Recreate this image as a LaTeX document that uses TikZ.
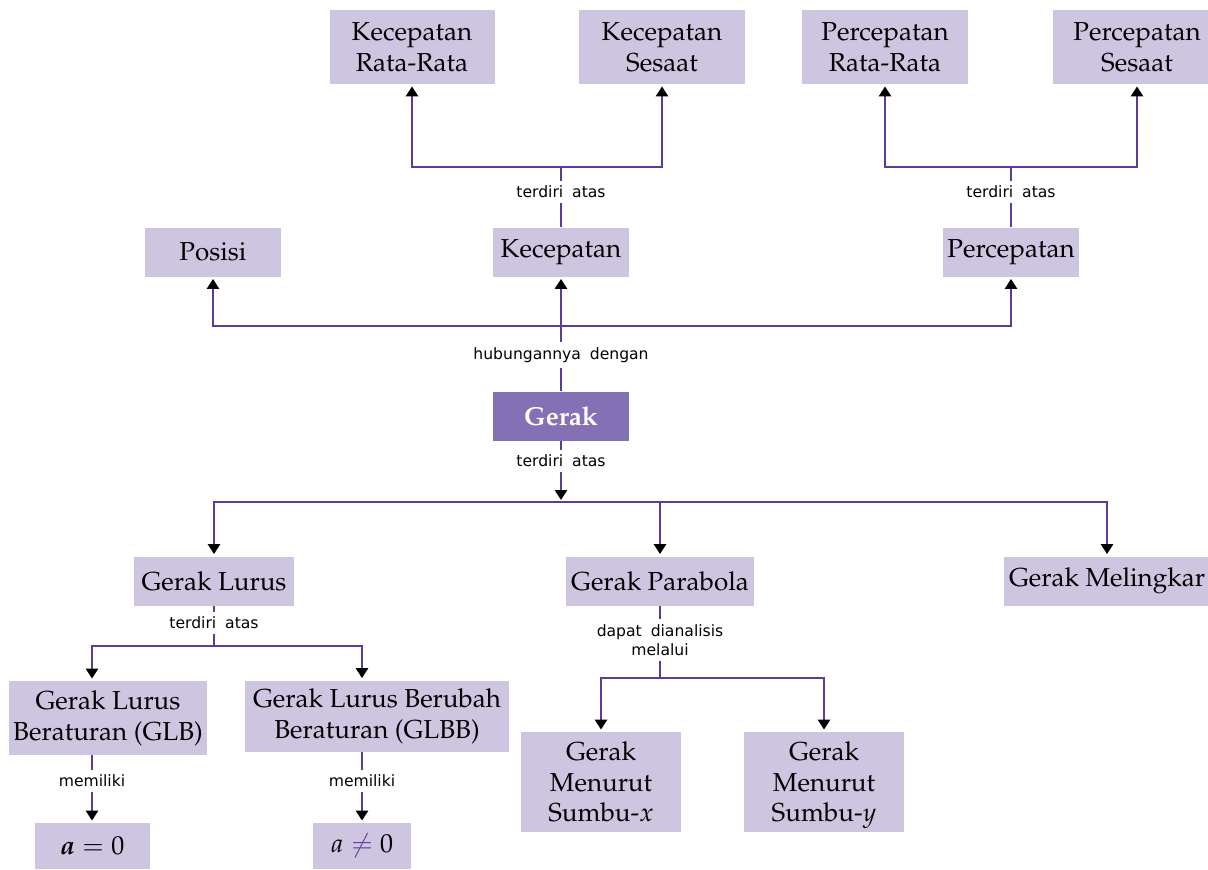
\documentclass[tikz,border=0pt]{standalone}
\usepackage{fontspec}
\newfontfamily\ketfont[WordSpace=1.8]{DejaVu Sans}
\usepackage[T1]{fontenc}
\usepackage{mathpazo}
\usepackage{bm}
\usetikzlibrary{arrows.meta}

\definecolor{boxpurple}{HTML}{CEC6E1}
\definecolor{darkpurple}{HTML}{8470B4}
\definecolor{linepurple}{HTML}{5B3C9B}

\tikzset{
  konsep/.style={fill=boxpurple, inner sep=0pt, align=center,
    font=\fontsize{13}{15.3}\selectfont},
  utama/.style={konsep, fill=darkpurple, text=white,
    font=\fontsize{13}{15.3}\selectfont\bfseries},
  ket/.style={inner sep=2.5pt, align=center,
    font=\ketfont\fontsize{7.8}{9.5}\selectfont},
  hub/.style={linepurple, line width=1.3pt},
  panah/.style={hub, shorten >=1pt, -{Triangle[color=black,length=5pt,width=6pt]}},
}

\begin{document}
\begin{tikzpicture}[x=0.5pt,y=-0.5pt]
  \useasboundingbox (0,0) rectangle (1208,869);

  % baris atas
  \node[konsep, minimum width=82.5pt, minimum height=37pt] (krr) at (412,47) {Kecepatan\\Rata-Rata};
  \node[konsep, minimum width=83pt, minimum height=37pt] (ks) at (662,47) {Kecepatan\\Sesaat};
  \node[konsep, minimum width=83pt, minimum height=37pt] (prr) at (885,47) {Percepatan\\Rata-Rata};
  \node[konsep, minimum width=84pt, minimum height=37pt] (ps) at (1137,47) {Percepatan\\Sesaat};

  % besaran
  \node[konsep, minimum width=68pt, minimum height=24.5pt] (posisi) at (213,252) {Posisi};
  \node[konsep, minimum width=68pt, minimum height=24.5pt] (kecepatan) at (561,252) {Kecepatan};
  \node[konsep, minimum width=68pt, minimum height=24.5pt] (percepatan) at (1011,252) {Percepatan};

  % pusat
  \node[utama, minimum width=68pt, minimum height=24.5pt] (gerak) at (561,416) {Gerak};

  % jenis gerak
  \node[konsep, minimum width=80pt, minimum height=24.5pt] (lurus) at (214,581) {Gerak Lurus};
  \node[konsep, minimum width=94pt, minimum height=24.5pt] (parabola) at (660,581) {Gerak Parabola};
  \node[konsep, minimum width=103pt, minimum height=24.5pt] (melingkar) at (1107,581) {Gerak Melingkar};

  \node[konsep, minimum width=99pt, minimum height=37pt] (glb) at (108,718) {Gerak Lurus\\Beraturan (GLB)};
  \node[konsep, minimum width=132pt, minimum height=35.5pt] (glbb) at (377,716) {Gerak Lurus Berubah\\Beraturan (GLBB)};
  \node[konsep, minimum width=57.5pt, minimum height=23pt] (anol) at (92,846) {$\bm{a} = 0$};
  \node[konsep, minimum width=49pt, minimum height=23pt] (abukan) at (362,846) {$a \mathrel{\color{linepurple}\neq} 0$};
  \node[konsep, minimum width=80pt, minimum height=50pt] (sx) at (601,782) {Gerak\\Menurut\\Sumbu-$x$};
  \node[konsep, minimum width=80pt, minimum height=50pt] (sy) at (824,782) {Gerak\\Menurut\\Sumbu-\smash{$y$}};

  % keterangan
  \node[ket] (td1) at (561,192) {terdiri atas};
  \node[ket] (td2) at (1011,192) {terdiri atas};
  \node[ket] (hubl) at (561,355) {hubungannya dengan};
  \node[ket] (td0) at (561,461) {terdiri atas};
  \node[ket] (td3) at (214,623) {terdiri atas};
  \node[ket] (dap) at (660,640) {dapat dianalisis\\melalui};
  \node[ket] (mem1) at (92,781) {memiliki};
  \node[ket] (mem2) at (362,781) {memiliki};

  % titik cabang
  \coordinate (j1) at (561,326);
  \coordinate (j2) at (561,167);
  \coordinate (j3) at (1011,167);
  \coordinate (j4) at (561,502);
  \coordinate (j5) at (214,646);
  \coordinate (j6) at (660,678);

  % ke atas
  \draw[hub] (gerak) -- (hubl) -- (j1);
  \draw[panah] (j1) -- (kecepatan);
  \draw[panah] (j1) -| (posisi);
  \draw[panah] (j1) -| (percepatan);

  \draw[hub] (kecepatan) -- (td1) -- (j2);
  \draw[panah] (j2) -| (krr);
  \draw[panah] (j2) -| (ks);

  \draw[hub] (percepatan) -- (td2) -- (j3);
  \draw[panah] (j3) -| (prr);
  \draw[panah] (j3) -| (ps);

  % ke bawah
  \draw[hub] (gerak) -- (td0);
  \draw[panah] (td0) -- (j4);
  \draw[panah] (j4) -| (lurus);
  \draw[panah] (j4) -| (parabola);
  \draw[panah] (j4) -| (melingkar);

  \draw[hub] (lurus) -- (td3) -- (j5);
  \draw[panah] (j5) -| (anol |- glb.north);
  \draw[panah] (j5) -| (abukan |- glbb.north);

  \draw[hub] (parabola) -- (dap) -- (j6);
  \draw[panah] (j6) -| (sx);
  \draw[panah] (j6) -| (sy);

  \draw[hub] (anol |- glb.south) -- (mem1);
  \draw[panah] (mem1) -- (anol);
  \draw[hub] (abukan |- glbb.south) -- (mem2);
  \draw[panah] (mem2) -- (abukan);

\end{tikzpicture}
\end{document}
